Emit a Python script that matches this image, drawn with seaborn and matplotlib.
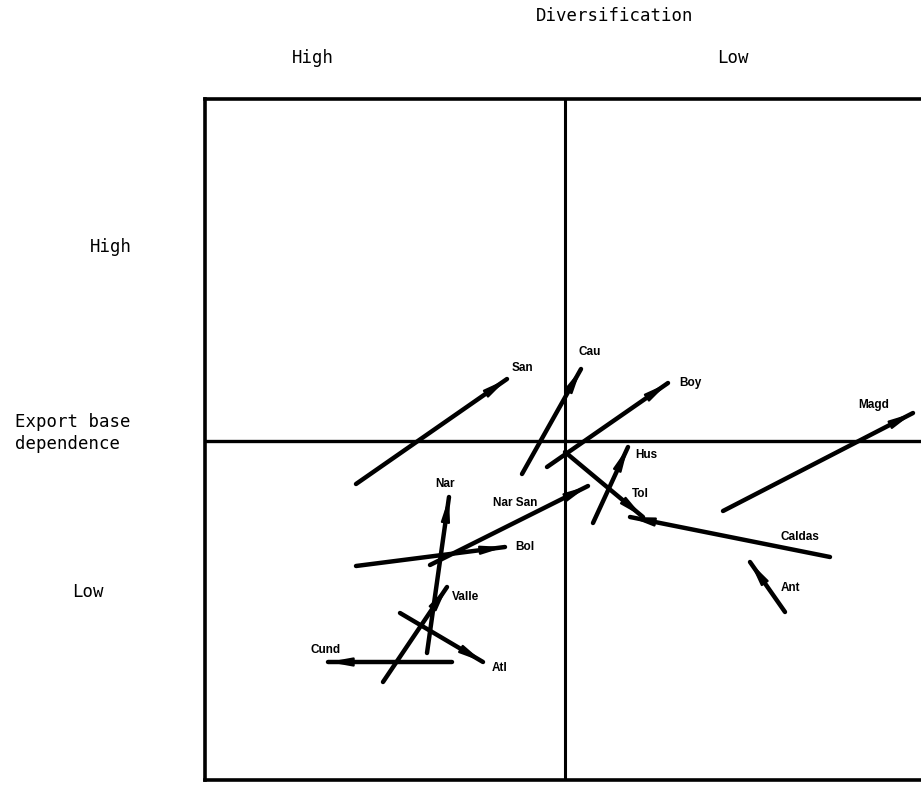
import matplotlib
matplotlib.use("Agg")
import matplotlib.pyplot as plt
import numpy as np
import pandas as pd
import seaborn as sns

# Departments: arrow tail (start) and head (end) on the two axes
# x: diversification (left = high, right = low), y: export base dependence
regions = ['San', 'Cau', 'Boy', 'Magd', 'Hus', 'Tol', 'Caldas', 'Ant',
           'Nar', 'Nar San', 'Bol', 'Valle', 'Cund', 'Atl']
x_start = [-2.09, -0.43, -0.18, 1.58, 0.28, 0.00, 2.65, 2.20,
           -1.38, -1.35, -2.09, -1.82, -1.13, -1.65]
y_start = [-0.43, -0.33, -0.26, -0.70, -0.82, -0.11, -1.16, -1.71,
           -2.12, -1.24, -1.25, -2.41, -2.21, -1.72]
x_end = [-0.58, 0.16, 1.03, 3.48, 0.63, 0.78, 0.65, 1.85,
         -1.16, 0.23, -0.60, -1.18, -2.37, -0.82]
y_end = [0.62, 0.72, 0.58, 0.28, -0.06, -0.76, -0.76, -1.21,
         -0.56, -0.45, -1.06, -1.46, -2.21, -2.21]

# label anchor points
label_x = [-0.43, 0.25, 1.25, 3.09, 0.81, 0.75, 2.35, 2.25,
           -1.20, -0.50, -0.40, -0.99, -2.39, -0.65]
label_y = [0.73, 0.89, 0.58, 0.36, -0.14, -0.53, -0.96, -1.47,
           -0.43, -0.62, -1.06, -1.56, -2.09, -2.27]

col_headers = ['High', 'Low']
row_headers = ['High', 'Low']

# long-form table for seaborn
df = pd.DataFrame({
    'region': regions * 2,
    'x': x_start + x_end,
    'y': y_start + y_end,
    'order': [0] * len(regions) + [1] * len(regions),
}).sort_values(['region', 'order'])

sns.set_style('white')
plt.rcParams['font.family'] = ['DejaVu Sans Mono', 'DejaVu Sans']
plt.rcParams['text.color'] = 'black'

W, H = 921, 794
fig = plt.figure(figsize=(W / 100, H / 100), dpi=100)
ax = fig.add_axes([205 / W, 14 / H, (935 - 205) / W, (780 - 99) / H])

sns.lineplot(data=df, x='x', y='y', units='region', estimator=None, sort=False,
             color='black', lw=3.2, ax=ax, legend=False,
             solid_capstyle='round')

for xs, ys, xe, ye in zip(x_start, y_start, x_end, y_end):
    ax.annotate('', xy=(xe, ye), xytext=(xs, ys),
                arrowprops=dict(arrowstyle='-|>,head_length=1.1,head_width=0.2',
                                color='black', lw=1.5, shrinkA=0, shrinkB=0,
                                mutation_scale=13))

for name, lx, ly in zip(regions, label_x, label_y):
    ax.text(lx, ly, name, ha='center', va='center', fontsize=8.5,
            fontweight='heavy', color='black',
            family=['Liberation Sans', 'DejaVu Sans'])

ax.axvline(0, color='black', lw=2.2)
ax.axhline(0, color='black', lw=2.4)

ax.set_xlim(-3.60, 3.70)
ax.set_ylim(-3.39, 3.42)
ax.set_xticks([])
ax.set_yticks([])
ax.set_xlabel('')
ax.set_ylabel('')
for side in ['left', 'top', 'bottom']:
    ax.spines[side].set_linewidth(2.6)
    ax.spines[side].set_color('black')
ax.spines['right'].set_visible(False)

def ftext(px, py, s, **kw):
    fig.text(px / W, 1 - py / H, s, fontsize=12.5, color='black', **kw)

ftext(615, 16, 'Diversification', ha='center', va='center')
ftext(313, 58, col_headers[0], ha='center', va='center')
ftext(733, 58, col_headers[1], ha='center', va='center')
ftext(111, 247, row_headers[0], ha='center', va='center')
ftext(15, 433, 'Export base\ndependence', ha='left', va='center', linespacing=1.3)
ftext(88, 592, row_headers[1], ha='center', va='center')

fig.savefig('out.png', dpi=100)
